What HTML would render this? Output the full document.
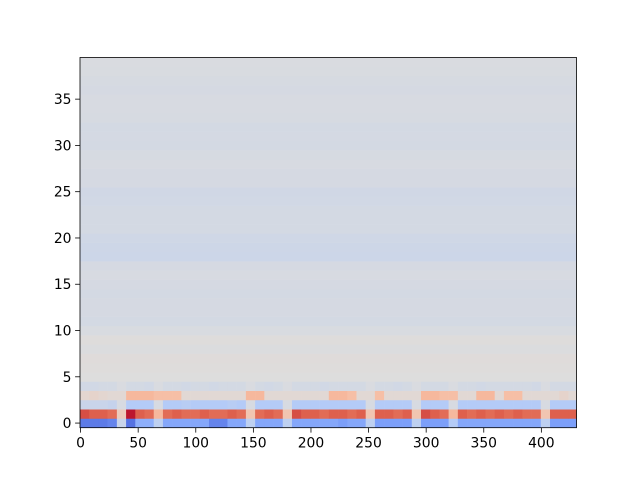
<!DOCTYPE html>
<html><head><meta charset="utf-8">
<style>
body{margin:0;background:#fff;}
svg text{font-family:"DejaVu Sans","Liberation Sans",sans-serif;font-size:13.9px;fill:#000;}
</style></head>
<body>
<svg id="chart" width="640" height="480" xmlns="http://www.w3.org/2000/svg">
<rect x="0" y="0" width="640" height="480" fill="#fff"/>
<g id="cells"></g>
<rect x="80" y="57.5" width="496.5" height="370.2" fill="none" stroke="#000" stroke-width="0.8"/>
<g id="xaxis"></g>
<g id="yaxis"></g>
</svg>
<script>
// --- data ---
const nCols = 431;
const nRows = 40;
const groupSize = 8;
const row0 = [-0.7,-0.7,-0.7,-0.65,-0.1,-0.75,-0.4,-0.4,-0.15,-0.45,-0.45,-0.45,-0.45,-0.45,-0.65,-0.65,-0.45,-0.45,-0.15,-0.45,-0.45,-0.45,-0.15,-0.45,-0.45,-0.45,-0.45,-0.45,-0.5,-0.45,-0.45,-0.15,-0.5,-0.5,-0.5,-0.5,-0.15,-0.5,-0.5,-0.5,-0.2,-0.45,-0.45,-0.45,-0.45,-0.45,-0.45,-0.45,-0.45,-0.45,-0.15,-0.5,-0.5,-0.5];
const row1 = [0.8,0.75,0.75,0.7,0.15,0.95,0.75,0.7,0.3,0.7,0.75,0.7,0.7,0.75,0.7,0.7,0.75,0.7,0.2,0.7,0.75,0.7,0.2,0.8,0.75,0.75,0.7,0.75,0.75,0.7,0.75,0.2,0.75,0.75,0.7,0.75,0.2,0.8,0.75,0.7,0.3,0.75,0.7,0.75,0.7,0.75,0.7,0.75,0.7,0.7,0.2,0.75,0.75,0.75];
const row2 = [-0.1,-0.1,-0.1,-0.12,-0.03,-0.2,-0.2,-0.2,-0.03,-0.2,-0.2,-0.18,-0.2,-0.2,-0.2,-0.2,-0.18,-0.2,-0.03,-0.2,-0.2,-0.2,-0.03,-0.2,-0.2,-0.2,-0.2,-0.2,-0.2,-0.2,-0.2,-0.03,-0.2,-0.2,-0.2,-0.2,-0.03,-0.2,-0.2,-0.2,-0.03,-0.2,-0.2,-0.2,-0.2,-0.2,-0.2,-0.2,-0.2,-0.2,-0.03,-0.2,-0.2,-0.2];
const row3 = [0.06,0.08,0.06,0.04,0.04,0.3,0.3,0.3,0.25,0.25,0.25,0.04,0.04,0.04,0.04,0.04,0.04,0.04,0.3,0.3,0.04,0.04,0.04,0.04,0.04,0.04,0.04,0.3,0.3,0.25,0.04,0.04,0.25,0.04,0.04,0.04,0.04,0.3,0.3,0.25,0.25,0.04,0.04,0.3,0.3,0.04,0.25,0.25,0.04,0.04,0.04,0.04,0.08,0.04];
const row4 = [-0.06,-0.06,-0.05,-0.05,-0.02,-0.05,-0.05,-0.06,-0.02,-0.05,-0.05,-0.06,-0.05,-0.05,-0.06,-0.05,-0.05,-0.05,-0.02,-0.05,-0.06,-0.05,-0.02,-0.05,-0.05,-0.05,-0.06,-0.05,-0.05,-0.05,-0.05,-0.02,-0.05,-0.05,-0.06,-0.05,-0.02,-0.05,-0.05,-0.05,-0.02,-0.05,-0.05,-0.06,-0.05,-0.05,-0.05,-0.05,-0.05,-0.06,-0.02,-0.05,-0.05,-0.05];
const upperRowMeans = [0.0,0.01,0.015,-0.01,0.01,-0.025,-0.05,-0.04,-0.04,-0.05,-0.04,-0.03,-0.04,-0.085,-0.08,-0.07,-0.05,-0.05,-0.05,-0.06,-0.065,-0.04,-0.04,-0.03,-0.035,-0.05,-0.045,-0.05,-0.035,-0.03,-0.03,-0.04,-0.035,-0.025,-0.02];
const xTicks = [0,50,100,150,200,250,300,350,400];
const yTicks = [0,5,10,15,20,25,30,35];

// --- axes ---
const X0=80, X1=576.5, Y0=427.7, Y1=57.5;
const xs = v => X0 + (v + 0.5) * (X1 - X0) / nCols;
const ys = v => Y0 - (v + 0.5) * (Y0 - Y1) / nRows;

const cmapStops=[[59,76,192],[85,114,227],[124,159,249],[170,199,253],[221,221,221],[246,191,166],[244,154,123],[222,96,77],[180,4,38]];
function cmap(v){
  let t=(Math.max(-1,Math.min(1,v))+1)/2*8;
  let i=Math.min(7,Math.floor(t)), f=t-i;
  const a=cmapStops[i], b=cmapStops[i+1];
  return `rgb(${a.map((c,k)=>Math.round(c+(b[k]-c)*f)).join(',')})`;
}
const NS='http://www.w3.org/2000/svg';
const cells=document.getElementById('cells');
const bottomRows=[row0,row1,row2,row3,row4];
function cell(c0,c1,r,v){
  const x=xs(c0-0.5), x2=xs(c1-0.5), y=ys(r+0.5), y2=ys(r-0.5);
  const el=document.createElementNS(NS,'rect');
  el.setAttribute('x',x.toFixed(2));el.setAttribute('y',y.toFixed(2));
  el.setAttribute('width',(x2-x+0.3).toFixed(2));el.setAttribute('height',(y2-y+0.3).toFixed(2));
  el.setAttribute('fill',cmap(v));
  
  
  cells.appendChild(el);
}
bottomRows.forEach((arr,r)=>{
  arr.forEach((v,g)=>{
    const c0=g*groupSize, c1=Math.min(nCols,c0+groupSize);
    cell(c0,c1,r,v);
  });
});
upperRowMeans.forEach((v,i)=>cell(0,nCols,i+5,v));

const xa=document.getElementById('xaxis');
xTicks.forEach(t=>{
  const x=xs(t);
  const l=document.createElementNS(NS,'line');
  l.setAttribute('x1',x);l.setAttribute('x2',x);l.setAttribute('y1',Y0);l.setAttribute('y2',Y0+4.9);
  l.setAttribute('stroke','#000');l.setAttribute('stroke-width','0.8');
  
  
  xa.appendChild(l);
  const tx=document.createElementNS(NS,'text');
  tx.setAttribute('x',x);tx.setAttribute('y',Y0+20);tx.setAttribute('text-anchor','middle');
  tx.textContent=t;
  
  
  xa.appendChild(tx);
});
const ya=document.getElementById('yaxis');
yTicks.forEach(t=>{
  const y=ys(t);
  const l=document.createElementNS(NS,'line');
  l.setAttribute('x1',X0-4.9);l.setAttribute('x2',X0);l.setAttribute('y1',y);l.setAttribute('y2',y);
  l.setAttribute('stroke','#000');l.setAttribute('stroke-width','0.8');
  
  
  ya.appendChild(l);
  const tx=document.createElementNS(NS,'text');
  tx.setAttribute('x',X0-8.5);tx.setAttribute('y',y+5);tx.setAttribute('text-anchor','end');
  tx.textContent=t;
  
  
  ya.appendChild(tx);
});
</script>
</body></html>
